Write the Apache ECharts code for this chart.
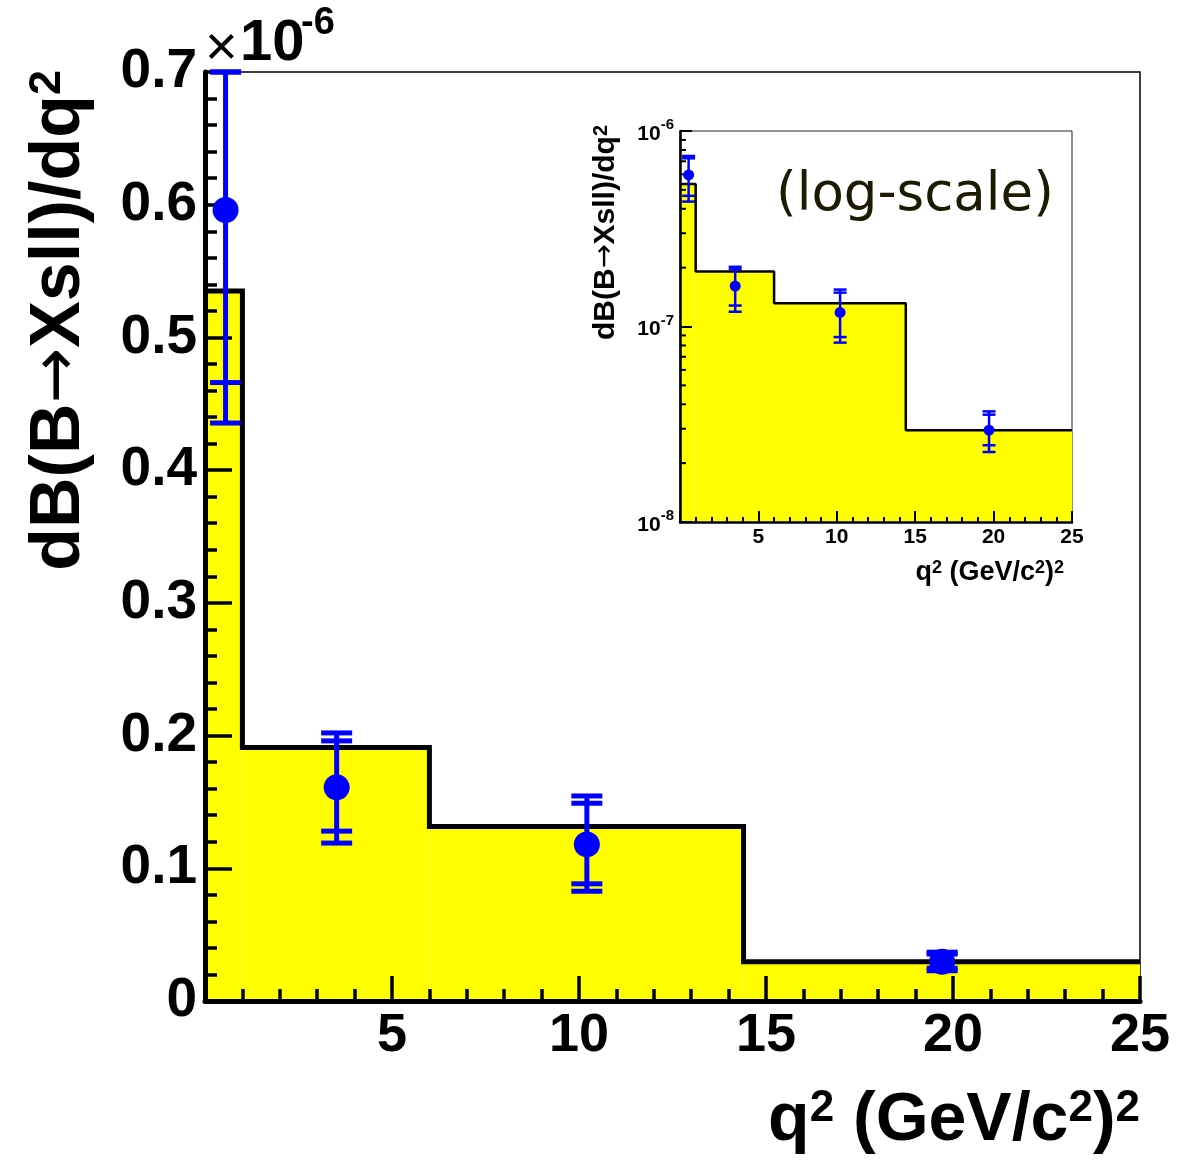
<!DOCTYPE html>
<html><head><meta charset="utf-8">
<script src="https://cdn.jsdelivr.net/npm/echarts@6/dist/echarts.min.js"></script>
<style>html,body{margin:0;padding:0;background:#fff}#c{width:1199px;height:1162px}</style>
</head><body><div id="c"></div>
<script>
// ---- data (branching fraction in units of 1e-6) ----
const binEdges   = [0, 1, 6, 14.4, 25];
const binValues  = [0.535, 0.191, 0.1315, 0.0295];
const pointX     = [0.55, 3.52, 10.21, 19.71];
const pointY     = [0.596, 0.161, 0.118, 0.0295];
const statLow    = [0.466, 0.128, 0.0883, 0.0247];
const statHigh   = [0.725, 0.196, 0.149, 0.0354];
const totLow     = [0.4355, 0.119, 0.0827, 0.0228];
const totHigh    = [0.745, 0.202, 0.1545, 0.0368];
const mainYTicks = [0, 0.1, 0.2, 0.3, 0.4, 0.5, 0.6, 0.7];
const xTickLabels = [5, 10, 15, 20, 25];
const logDecades = [-8, -7, -6];

const FONT = "'Liberation Sans', Arial, Helvetica, sans-serif";
const SCALE = 1e-6;

const histRects = binValues.map((v, i) => [binEdges[i], binEdges[i + 1], v]);
const histStep = binEdges.map((e, i) => [e, binValues[Math.min(i, binValues.length - 1)]]);
const points = pointX.map((x, i) => [x, pointY[i], statLow[i], statHigh[i], totLow[i], totHigh[i]]);
const minorLog = [];
for (let d = logDecades[0]; d < logDecades[logDecades.length - 1]; d++) {
  for (let m = 2; m <= 9; m++) minorLog.push([m * Math.pow(10, d)]);
}

function histFill(scale, base) {
  return function (params, api) {
    const p0 = api.coord([api.value(0), base]);
    const p1 = api.coord([api.value(1), api.value(2) * scale]);
    return { type: 'rect', shape: { x: p0[0], y: p1[1], width: p1[0] - p0[0], height: p0[1] - p1[1] },
      style: { fill: '#ffff00' } };
  };
}
function errRender(scale, capHalf, lw, r) {
  return function (params, api) {
    const cs = params.coordSys;
    const top = cs.y, bot = cs.y + cs.height;
    const x = api.value(0);
    const c = api.coord([x, api.value(1) * scale]);
    const py = v => Math.max(top, Math.min(bot, api.coord([x, v * scale])[1]));
    const ys = [py(api.value(2)), py(api.value(3)), py(api.value(4)), py(api.value(5))];
    const st = { stroke: '#0000ff', lineWidth: lw };
    const ch = [{ type: 'line', shape: { x1: c[0], y1: ys[2], x2: c[0], y2: ys[3] }, style: st }];
    ys.forEach(y => ch.push({ type: 'line', shape: { x1: c[0] - capHalf, y1: y, x2: c[0] + capHalf, y2: y }, style: st }));
    ch.push({ type: 'circle', shape: { cx: c[0], cy: c[1], r: r }, style: { fill: '#0000ff' } });
    return { type: 'group', children: ch };
  };
}
function minorTickRender(len, lw) {
  return function (params, api) {
    const p = api.coord([0, api.value(0)]);
    return { type: 'line', shape: { x1: p[0], y1: p[1], x2: p[0] + len, y2: p[1] }, style: { stroke: '#000', lineWidth: lw } };
  };
}
function titleRich(size, supSize) {
  return {
    b: { fontFamily: FONT, fontWeight: 'bold', fontSize: size, fill: '#000', color: '#000' },
    a: { fontFamily: "'DejaVu Sans', sans-serif", fontWeight: 'normal', fontSize: size * 0.95, fill: '#000', color: '#000' },
    s: { fontFamily: FONT, fontWeight: 'bold', fontSize: supSize, fill: '#000', color: '#000', verticalAlign: 'top' }
  };
}
const yTitle = '{b|dB(B}{a|\u2192}{b|Xsll)/dq}{s|2}';
const xTitle = '{b|q}{s|2}{b| (GeV/c}{s|2}{b|)}{s|2}';

const chart = echarts.init(document.getElementById('c'), null, { renderer: 'canvas' });
chart.setOption({
  animation: false,
  backgroundColor: '#fff',
  grid: [
    { left: 205, top: 72, width: 935, height: 929, show: true, borderColor: '#000', borderWidth: 1.5,
      backgroundColor: 'transparent', outerBoundsMode: 'none' },
    { left: 680, top: 131, width: 392, height: 391, show: true, borderColor: '#222', borderWidth: 1,
      backgroundColor: '#fff', outerBoundsMode: 'none' }
  ],
  xAxis: [
    { type: 'value', gridIndex: 0, min: 0, max: 25, interval: 5, z: 3,
      axisLine: { onZero: false, lineStyle: { color: '#000', width: 5 } },
      axisTick: { inside: true, length: 25, lineStyle: { color: '#000', width: 3.5 } },
      minorTick: { show: true, splitNumber: 5, length: 12, lineStyle: { color: '#000', width: 3.5 } },
      splitLine: { show: false },
      axisLabel: { margin: 8, color: '#000', fontFamily: FONT, fontWeight: 'bold', fontSize: 54,
        formatter: v => (xTickLabels.indexOf(v) >= 0 ? String(v) : '') } },
    { type: 'value', gridIndex: 1, min: 0, max: 25, interval: 5, z: 3,
      axisLine: { onZero: false, lineStyle: { color: '#000', width: 2.5 } },
      axisTick: { inside: true, length: 11, lineStyle: { color: '#000', width: 2 } },
      minorTick: { show: true, splitNumber: 5, length: 5, lineStyle: { color: '#000', width: 2 } },
      splitLine: { show: false },
      axisLabel: { margin: 5, color: '#000', fontFamily: FONT, fontWeight: 'bold', fontSize: 21,
        formatter: v => (xTickLabels.indexOf(v) >= 0 ? String(v) : '') } }
  ],
  yAxis: [
    { type: 'value', gridIndex: 0, min: 0, max: 0.7, interval: 0.1, z: 3,
      axisLine: { onZero: false, lineStyle: { color: '#000', width: 5 } },
      axisTick: { inside: true, length: 27, lineStyle: { color: '#000', width: 3.5 } },
      minorTick: { show: true, splitNumber: 5, length: 12, lineStyle: { color: '#000', width: 3.5 } },
      splitLine: { show: false },
      axisLabel: { margin: 8, color: '#000', fontFamily: FONT, fontWeight: 'bold', fontSize: 55,
        formatter: v => { const t = mainYTicks.find(m => Math.abs(m - v) < 1e-9); return t === 0 ? '0' : t.toFixed(1); } } },
    { type: 'log', logBase: 10, gridIndex: 1, min: 1e-8, max: 1e-6, interval: 1, z: 3,
      axisLine: { onZero: false, lineStyle: { color: '#000', width: 2.5 } },
      axisTick: { inside: true, length: 12, lineStyle: { color: '#000', width: 2 } },
      splitLine: { show: false },
      axisLabel: { margin: 6, color: '#000', fontFamily: FONT, fontWeight: 'bold',
        formatter: v => '{b|10}{s|' + Math.round(Math.log10(v)) + '}',
        rich: { b: { fontFamily: FONT, fontWeight: 'bold', fontSize: 21, color: '#000', verticalAlign: 'bottom', lineHeight: 27 },
                s: { fontFamily: FONT, fontWeight: 'bold', fontSize: 15, color: '#000', verticalAlign: 'top', lineHeight: 27 } } } }
  ],
  series: [
    { type: 'custom', xAxisIndex: 0, yAxisIndex: 0, z: 1, clip: true, renderItem: histFill(1, 0),
      encode: { x: [0, 1], y: 2 }, data: histRects, silent: true },
    { type: 'line', xAxisIndex: 0, yAxisIndex: 0, z: 2, step: 'end', showSymbol: false, symbol: 'none',
      lineStyle: { color: '#000', width: 5, join: 'miter' }, data: histStep, silent: true },
    { type: 'custom', xAxisIndex: 0, yAxisIndex: 0, z: 5, clip: false, renderItem: errRender(1, 15.5, 5, 13),
      encode: { x: 0, y: [1, 2, 3, 4, 5] }, data: points, silent: true },

    { type: 'custom', xAxisIndex: 1, yAxisIndex: 1, z: 1, clip: true, renderItem: histFill(SCALE, 1e-8),
      encode: { x: [0, 1] }, data: histRects, silent: true },
    { type: 'line', xAxisIndex: 1, yAxisIndex: 1, z: 2, step: 'end', showSymbol: false, symbol: 'none',
      lineStyle: { color: '#000', width: 2.5 }, data: histStep.map(p => [p[0], p[1] * SCALE]), silent: true },
    { type: 'custom', xAxisIndex: 1, yAxisIndex: 1, z: 4, clip: false, renderItem: minorTickRender(6, 2),
      encode: { y: 0 }, data: minorLog, silent: true },
    { type: 'custom', xAxisIndex: 1, yAxisIndex: 1, z: 5, clip: false, renderItem: errRender(SCALE, 6.5, 2.5, 5.5),
      encode: { x: 0 }, data: points, silent: true }
  ],
  graphic: [
    { type: 'text', x: 60, y: 70, rotation: Math.PI / 2, z: 10,
      style: { text: yTitle, rich: titleRich(70, 45), fill: '#000', align: 'right', verticalAlign: 'middle' } },
    { type: 'text', x: 205, y: 50, z: 10,
      style: { text: '\u00d7', font: '56px ' + FONT, fill: '#000', align: 'left', verticalAlign: 'middle' } },
    { type: 'text', x: 240, y: 44, z: 10,
      style: { text: '10', font: 'bold 58px ' + FONT, fill: '#000', align: 'left', verticalAlign: 'middle' } },
    { type: 'text', x: 301, y: 24, z: 10,
      style: { text: '-6', font: 'bold 38px ' + FONT, fill: '#000', align: 'left', verticalAlign: 'middle' } },
    { type: 'text', x: 1140, y: 1121, z: 10,
      style: { text: xTitle, rich: titleRich(68, 44), fill: '#000', align: 'right', verticalAlign: 'middle' } },
    { type: 'text', x: 606, y: 125, rotation: Math.PI / 2, z: 10,
      style: { text: yTitle, rich: titleRich(30, 20), fill: '#000', align: 'right', verticalAlign: 'middle' } },
    { type: 'text', x: 1064, y: 573, z: 10,
      style: { text: xTitle, rich: titleRich(27, 18), fill: '#000', align: 'right', verticalAlign: 'middle' } },
    { type: 'text', x: 776, y: 196, z: 10,
      style: { text: '(log-scale)', font: '53px "DejaVu Sans", sans-serif', fill: '#1c1a00', align: 'left', verticalAlign: 'middle' } }
  ]
});
</script>
</body></html>
